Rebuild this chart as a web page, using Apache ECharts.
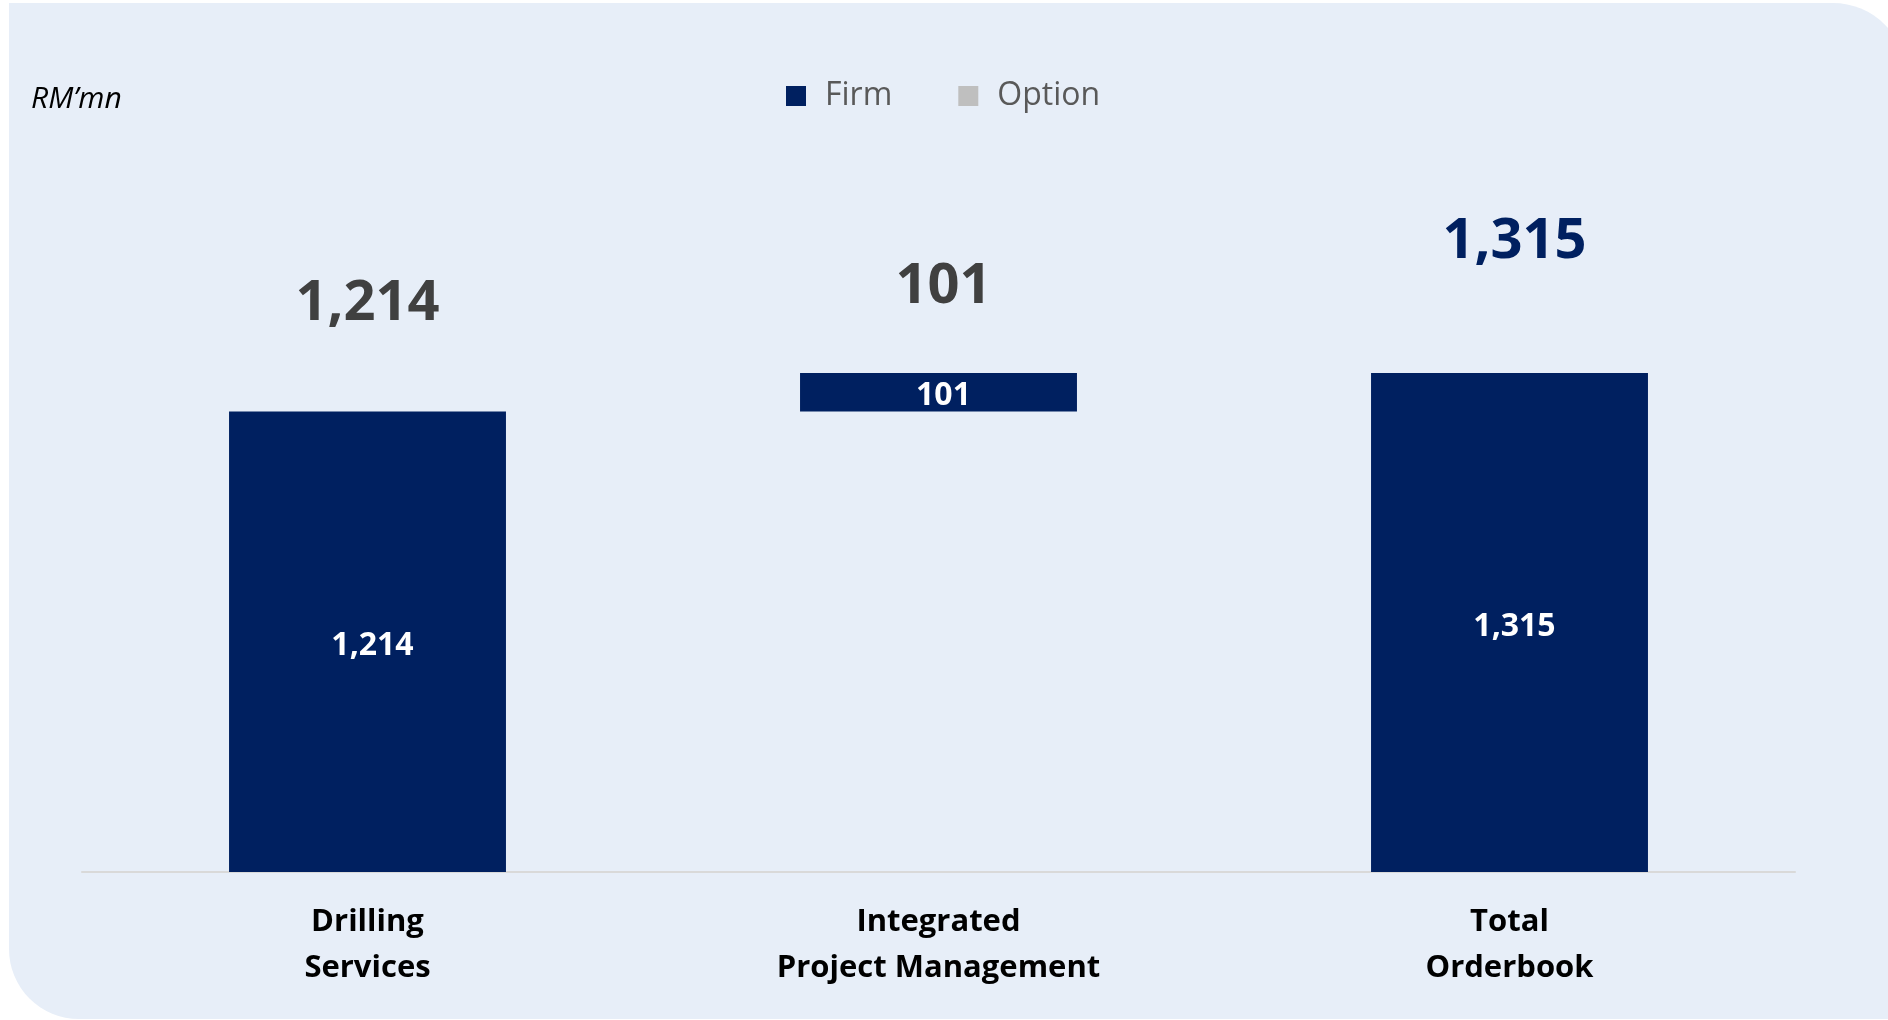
<!DOCTYPE html>
<html>
<head>
<meta charset="utf-8">
<title>Orderbook</title>
<script src="https://cdn.jsdelivr.net/npm/echarts@6/dist/echarts.min.js"></script>
<style>
  html, body { margin: 0; padding: 0; background: #ffffff; }
  #chart { width: 1888px; height: 1020px; }
</style>
</head>
<body>
<div id="chart"></div>
<script>
// Orderbook breakdown, RM'mn
const categories = ['Drilling\nServices', 'Integrated\nProject Management', 'Total\nOrderbook'];
const firmValues = [1214, 101, 1315];
const optionValues = [0, 0, 0];
// invisible offset that lifts the middle bar onto the first one (waterfall)
const baseValues = [0, firmValues[0], 0];
const unitLabel = 'RM\u2019mn';

const FONT = '"Open Sans", "Noto Sans", sans-serif';
const NAVY = '#002060';
const fmt = v => Number(v).toLocaleString('en-US');

// headline totals above each column
const topLabelGap = [79, 58, 103];
const topLabelShift = [0, 5, 5];
const topLabelColor = ['#404040', '#404040', NAVY];

const chart = echarts.init(document.getElementById('chart'), null, { renderer: 'canvas' });

chart.setOption({
  animation: false,
  backgroundColor: '#ffffff',
  graphic: [{
    type: 'rect',
    z: -10,
    silent: true,
    shape: { x: 9, y: 3, width: 1897, height: 1016, r: [0, 73, 0, 70] },
    style: { fill: '#E7EEF8' }
  }],
  title: {
    text: unitLabel,
    left: 26,
    top: 79,
    textStyle: { fontFamily: FONT, fontStyle: 'italic', fontWeight: 'normal', fontSize: 30, color: '#000000' }
  },
  legend: {
    data: ['Firm', 'Option'],
    left: 781,
    top: 75,
    itemWidth: 20,
    itemHeight: 20,
    itemGap: 66,
    icon: 'rect',
    selectedMode: false,
    textStyle: { fontFamily: FONT, fontSize: 32, color: '#595959', padding: [0, 0, 0, 14] }
  },
  grid: { left: 82, right: 93, top: 265, bottom: 148 },
  xAxis: {
    type: 'category',
    data: categories,
    axisLine: { lineStyle: { color: '#D9D9D9', width: 2 } },
    axisTick: { show: false },
    axisLabel: {
      margin: 27,
      fontFamily: FONT,
      fontWeight: 'bold',
      fontSize: 31,
      lineHeight: 46,
      color: '#000000'
    }
  },
  yAxis: {
    type: 'value',
    min: 0,
    max: 1600,
    show: false,
    splitLine: { show: false }
  },
  series: [
    {
      name: 'base',
      type: 'bar',
      stack: 'total',
      silent: true,
      barCategoryGap: '51.5%',
      itemStyle: { color: 'transparent' },
      data: baseValues
    },
    {
      name: 'Firm',
      type: 'bar',
      stack: 'total',
      barCategoryGap: '51.5%',
      itemStyle: { color: NAVY },
      label: {
        show: true,
        position: 'inside',
        offset: [5, 4],
        formatter: p => fmt(p.value),
        fontFamily: FONT,
        fontWeight: 'bold',
        fontSize: 32,
        color: '#ffffff'
      },
      data: firmValues
    },
    {
      name: 'Option',
      type: 'bar',
      stack: 'total',
      barCategoryGap: '51.5%',
      itemStyle: { color: '#BFBFBF' },
      label: {
        show: true,
        position: 'top',
        fontFamily: FONT,
        fontWeight: 'bold',
        fontSize: 56,
        formatter: p => fmt(firmValues[p.dataIndex] + optionValues[p.dataIndex])
      },
      data: optionValues.map((v, i) => ({
        value: v,
        label: { distance: topLabelGap[i], offset: [topLabelShift[i], 0], color: topLabelColor[i] }
      }))
    }
  ]
});
</script>
</body>
</html>
